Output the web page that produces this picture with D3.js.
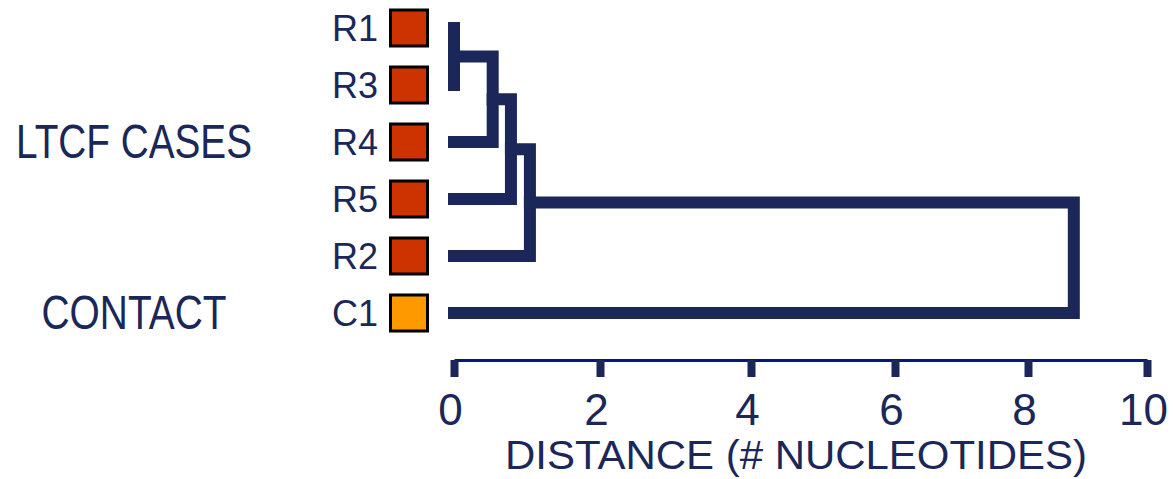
<!DOCTYPE html>
<html>
<head>
<meta charset="utf-8">
<script src="https://cdn.jsdelivr.net/npm/d3@7"></script>
<style>
  html, body { margin: 0; padding: 0; background: #ffffff; }
  svg { display: block; }
  text { font-family: "Liberation Sans", Arial, sans-serif; }
</style>
</head>
<body>
<div id="chart"></div>
<script>
// ---- data ----
const leaves = ["R1", "R3", "R4", "R5", "R2", "C1"];
const leafGroup = ["case", "case", "case", "case", "case", "contact"];
const groupKeys = ["case", "contact"];
const groupLabels = ["LTCF CASES", "CONTACT"];
const groupAnchorLeaf = ["R4", "C1"];
const groupColors = ["#CC3300", "#FF9900"];

// merges of the dendrogram (distance in # nucleotides)
const nodeNames = ["A", "B", "C", "D", "E"];
const nodeLeft = ["R1", "A", "B", "C", "D"];
const nodeRight = ["R3", "R4", "R5", "R2", "C1"];
const nodeDistance = [0, 0.53, 0.78, 1.04, 8.77];

const tickValues = [0, 2, 4, 6, 8, 10];
const axisTitle = "DISTANCE (# NUCLEOTIDES)";

// ---- layout ----
const W = 1173, H = 479;
const navy = "#1a2758";

const svg = d3.select("#chart").append("svg")
  .attr("width", W).attr("height", H);

// axis as drawn in the original figure (tick spacing is not uniform there)
const x = d3.scaleLinear()
  .domain(tickValues)
  .range([454, 600, 751, 895, 1028, 1147]);

const y = d3.scalePoint()
  .domain(leaves)
  .range([28, 313]);

// node positions
const pos = {};
leaves.forEach(l => { pos[l] = { x: x(0), y: y(l) }; });
nodeNames.forEach((n, i) => {
  const a = pos[nodeLeft[i]], b = pos[nodeRight[i]];
  pos[n] = { x: x(nodeDistance[i]), y: (a.y + b.y) / 2 };
});

// dendrogram elbows
const tree = svg.append("g");
nodeNames.forEach((n, i) => {
  const a = pos[nodeLeft[i]], b = pos[nodeRight[i]], p = pos[n];
  tree.append("path")
    .attr("d", `M${a.x},${a.y}H${p.x}V${b.y}H${b.x}`)
    .attr("fill", "none")
    .attr("stroke", navy)
    .attr("stroke-width", 12)
    .attr("stroke-linejoin", "miter")
    .attr("stroke-linecap", "square");
});

// leaf squares and labels
const colorOf = d3.scaleOrdinal().domain(groupKeys).range(groupColors);
const leafG = svg.append("g");
leaves.forEach((l, i) => {
  leafG.append("rect")
    .attr("x", x(0) - 63.5)
    .attr("y", y(l) - 18)
    .attr("width", 37)
    .attr("height", 36)
    .attr("fill", colorOf(leafGroup[i]))
    .attr("stroke", "#000")
    .attr("stroke-width", 3);
  leafG.append("text")
    .attr("x", x(0) - 76)
    .attr("y", y(l))
    .attr("dy", "0.35em")
    .attr("text-anchor", "end")
    .attr("font-size", 36)
    .attr("fill", navy)
    .text(l);
});

// group labels
const groupWidths = [236, 185];
groupLabels.forEach((g, i) => {
  svg.append("text")
    .attr("x", 134)
    .attr("y", y(groupAnchorLeaf[i]))
    .attr("dy", "0.33em")
    .attr("text-anchor", "middle")
    .attr("font-size", 48)
    .attr("fill", navy)
    .attr("textLength", groupWidths[i])
    .attr("lengthAdjust", "spacingAndGlyphs")
    .text(g);
});

// x axis
const axisG = svg.append("g")
  .attr("transform", "translate(0,360)")
  .call(d3.axisBottom(x)
    .tickValues(tickValues)
    .tickSize(17)
    .tickSizeOuter(0)
    .tickPadding(17)
    .tickFormat(d3.format("d")));

axisG.select(".domain")
  .attr("stroke", "#0c1480")
  .attr("stroke-width", 3);
axisG.selectAll(".tick line")
  .attr("stroke", navy)
  .attr("stroke-width", 8);
axisG.selectAll(".tick text")
  .attr("fill", navy)
  .attr("font-size", 44)
  .attr("dx", -4)
  .style("font-family", "'Liberation Sans', Arial, sans-serif");

svg.append("text")
  .attr("x", 796)
  .attr("y", 469)
  .attr("text-anchor", "middle")
  .attr("font-size", 41)
  .attr("textLength", 582)
  .attr("lengthAdjust", "spacingAndGlyphs")
  .attr("fill", navy)
  .text(axisTitle);
</script>
</body>
</html>
